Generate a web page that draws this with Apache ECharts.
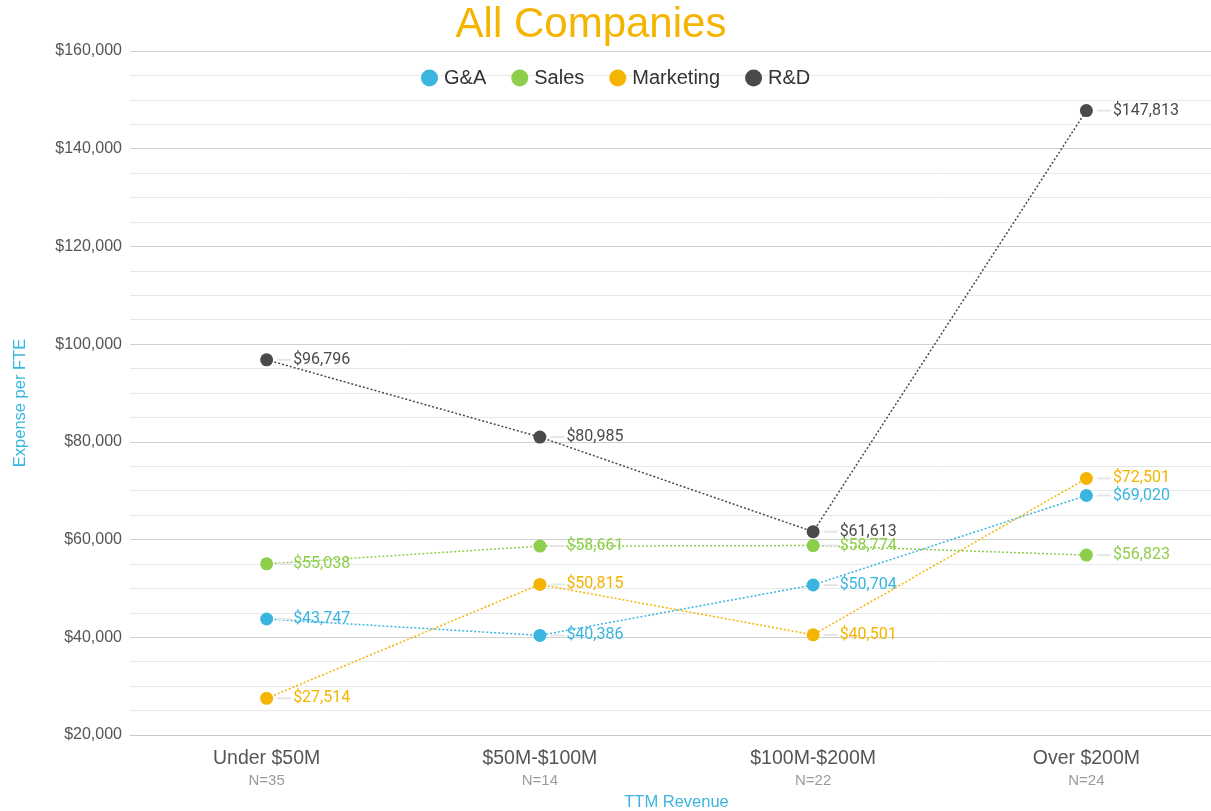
<!DOCTYPE html>
<html>
<head>
<meta charset="utf-8">
<script src="https://cdn.jsdelivr.net/npm/echarts@6/dist/echarts.min.js"></script>
<style>
  html, body { margin: 0; padding: 0; background: #fff; }
  #chart { width: 1211px; height: 811px; }
</style>
</head>
<body>
<div id="chart"></div>
<script>
// Revenue bands and company counts
const categories = ['Under $50M', '$50M-$100M', '$100M-$200M', 'Over $200M'];
const counts = ['N=35', 'N=14', 'N=22', 'N=24'];

// Expense per FTE by function
const gaValues = [43747, 40386, 50704, 69020];
const salesValues = [55038, 58661, 58774, 56823];
const marketingValues = [27514, 50815, 40501, 72501];
const rdValues = [96796, 80985, 61613, 147813];

const seriesDefs = [
  { name: 'G&A', data: gaValues, color: '#3AB5DF' },
  { name: 'Sales', data: salesValues, color: '#8DCF4A' },
  { name: 'Marketing', data: marketingValues, color: '#F4B400' },
  { name: 'R&D', data: rdValues, color: '#4A4A4A' }
];

const money = v => '$' + Math.round(v).toLocaleString('en-US');
const SANS = 'Liberation Sans, Arial, sans-serif';

const chart = echarts.init(document.getElementById('chart'), null, { renderer: 'canvas' });

chart.setOption({
  backgroundColor: '#ffffff',
  animation: false,
  graphic: [{
    type: 'text',
    x: 591,
    y: 25,
    style: {
      text: 'All Companies',
      fill: '#F4B400',
      font: 'normal 42px ' + SANS,
      textAlign: 'center',
      textVerticalAlign: 'middle'
    }
  }, {
    // vertical value-axis title
    type: 'text',
    x: 20,
    y: 403,
    rotation: Math.PI / 2,
    style: {
      text: 'Expense per FTE',
      fill: '#3AB5DF',
      font: 'normal 16.5px ' + SANS,
      textAlign: 'center',
      textVerticalAlign: 'middle'
    }
  }],
  legend: {
    top: 63,
    left: 416,
    itemGap: 25,
    icon: 'circle',
    itemWidth: 17,
    itemHeight: 17,
    textStyle: {
      color: '#333',
      fontFamily: SANS,
      fontSize: 20,
      padding: [0, 0, 0, 1]
    },
    data: seriesDefs.map(s => s.name)
  },
  grid: {
    left: 130,
    top: 51,
    width: 1093,
    height: 684,
    outerBoundsMode: 'none',
    containLabel: false
  },
  xAxis: {
    type: 'category',
    data: categories,
    boundaryGap: true,
    name: 'TTM Revenue',
    nameLocation: 'middle',
    nameGap: 59,
    nameTextStyle: {
      color: '#3AB5DF',
      fontFamily: SANS,
      fontSize: 16.5
    },
    axisLine: { show: true, lineStyle: { color: '#c8c8c8', width: 1 } },
    axisTick: { show: false },
    axisLabel: {
      margin: 12,
      formatter: (v, i) => '{cat|' + v + '}\n{n|' + counts[i] + '}',
      rich: {
        cat: {
          color: '#555',
          fontFamily: SANS,
          fontSize: 19.5,
          lineHeight: 24
        },
        n: {
          color: '#9a9a9a',
          fontFamily: SANS,
          fontSize: 15,
          lineHeight: 19
        }
      }
    },
    splitLine: { show: false }
  },
  yAxis: {
    type: 'value',
    min: 20000,
    max: 160000,
    interval: 20000,
    axisLine: { show: false },
    axisTick: { show: false },
    axisLabel: {
      margin: 8,
      color: '#555',
      fontFamily: SANS,
      fontSize: 16,
      formatter: v => money(v)
    },
    splitLine: { show: true, lineStyle: { color: '#d0d0d0', width: 1 } },
    minorTick: { show: false, splitNumber: 4 },
    minorSplitLine: { show: true, lineStyle: { color: '#e8e8e8', width: 1 } }
  },
  series: seriesDefs.map(s => ({
    name: s.name,
    type: 'line',
    data: s.data,
    color: s.color,
    symbol: 'circle',
    symbolSize: 13,
    itemStyle: { color: s.color },
    lineStyle: { color: s.color, width: 1.5, type: [2, 2] },
    label: {
      show: true,
      position: 'right',
      distance: 4,
      formatter: p => '{lead|}{val|' + money(p.value) + '}',
      rich: {
        lead: {
          width: 14,
          height: 2,
          backgroundColor: '#e6e6e6'
        },
        val: {
          color: s.color,
          fontFamily: 'Roboto, sans-serif',
          fontSize: 16,
          padding: [0, 0, 0, 2]
        }
      }
    },
    z: 3
  }))
});
</script>
</body>
</html>
